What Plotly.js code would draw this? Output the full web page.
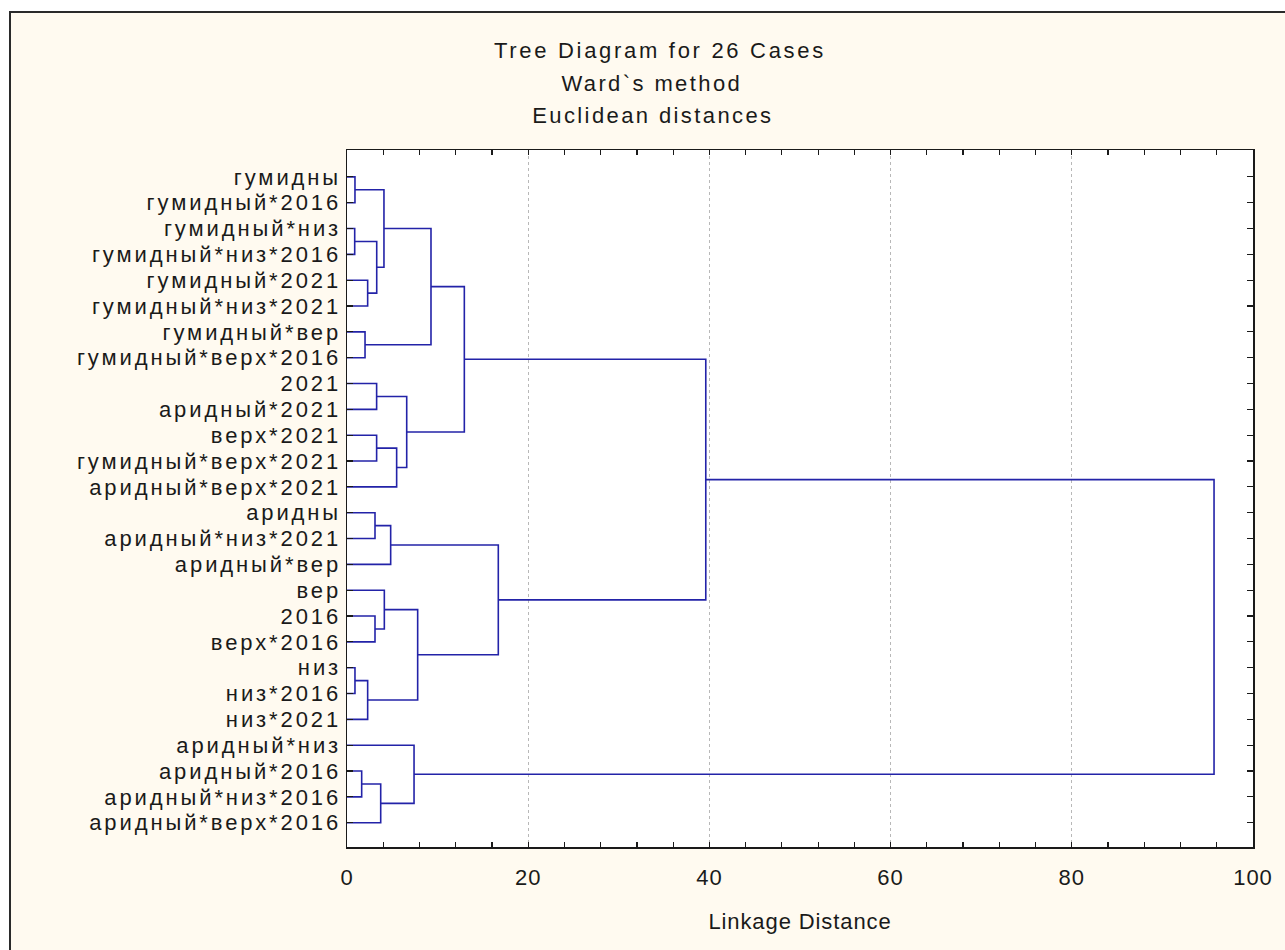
<!DOCTYPE html>
<html>
<head>
<meta charset="utf-8">
<script src="https://cdn.plot.ly/plotly-3.0.1.min.js"></script>
<style>
  html, body { margin: 0; padding: 0; background: #ffffff; overflow: hidden; }
  #frame { position: absolute; left: 9px; top: 11px; width: 1274px; height: 937px;
           border-left: 2px solid #2a2a2a; border-top: 2px solid #2a2a2a; background: #fffaf0; }
  #plot { width: 1274px; height: 937px; }
  #plot .ytick text { letter-spacing: 2.9px; }
  #plot text.gtitle { letter-spacing: 2.7px; }
  #plot text.annotation-text { letter-spacing: 2.4px; }
  #plot text.xtitle { letter-spacing: 0.9px; }
  #plot .xtick text { letter-spacing: 1px; }
</style>
</head>
<body>
<div id="frame"><div id="plot"></div></div>
<script>
// Leaves, top to bottom
const leafLabels = [
  "гумидны", "гумидный*2016", "гумидный*низ", "гумидный*низ*2016",
  "гумидный*2021", "гумидный*низ*2021", "гумидный*вер", "гумидный*верх*2016",
  "2021", "аридный*2021", "верх*2021", "гумидный*верх*2021", "аридный*верх*2021",
  "аридны", "аридный*низ*2021", "аридный*вер",
  "вер", "2016", "верх*2016", "низ", "низ*2016", "низ*2021",
  "аридный*низ", "аридный*2016", "аридный*низ*2016", "аридный*верх*2016"
];
// Linkage: cluster 26+i joins mergeA[i] and mergeB[i] at mergeDist[i]
const mergeA = [0, 2, 4, 27, 26, 6, 30, 8, 10, 34, 33, 32, 13, 38, 17, 16, 19, 42, 41, 39, 37, 23, 47, 22, 46];
const mergeB = [1, 3, 5, 28, 29, 7, 31, 9, 11, 12, 35, 36, 14, 15, 18, 40, 20, 21, 43, 44, 45, 24, 25, 48, 49];
const mergeDist = [0.88, 0.85, 2.28, 3.28, 4.08, 1.99, 9.27, 3.27, 3.27, 5.48, 6.59, 12.95,
                   3.09, 4.82, 3.09, 4.12, 0.88, 2.28, 7.8, 16.7, 39.6, 1.62, 3.72, 7.4, 95.7];
const xTickVals = [0, 20, 40, 60, 80, 100];
const titleLines = ["Tree Diagram for 26 Cases", "Ward`s method", "Euclidean distances"];
const xTitle = "Linkage Distance";

const n = leafLabels.length;
const pos = [], hgt = [];
for (let i = 0; i < n; i++) { pos.push(i); hgt.push(0); }
const xs = [], ys = [];
for (let i = 0; i < mergeA.length; i++) {
  const a = mergeA[i], b = mergeB[i], d = mergeDist[i];
  xs.push(hgt[a], d, d, hgt[b], null);
  ys.push(pos[a], pos[a], pos[b], pos[b], null);
  pos.push((pos[a] + pos[b]) / 2);
  hgt.push(d);
}

const font = "Liberation Sans, Arial, sans-serif";
const trace = {
  type: "scatter", mode: "lines", x: xs, y: ys,
  line: { color: "#2323a8", width: 1.6 },
  hoverinfo: "skip", showlegend: false
};

const layout = {
  width: 1274, height: 937,
  margin: { l: 336, r: 32, t: 137, b: 103, pad: 0 },
  paper_bgcolor: "#fffaf0", plot_bgcolor: "#ffffff",
  font: { family: font, size: 22, color: "#1a1a1a" },
  title: { text: titleLines[0], font: { family: font, size: 22, color: "#1a1a1a" },
           xref: "container", x: 0.5094, xanchor: "center",
           yref: "container", y: 1 - 37 / 937, yanchor: "middle" },
  annotations: [
    { text: titleLines[1], xref: "paper", yref: "paper", x: 0.3364, y: 1 + (136.5 - 69.7) / 697,
      xanchor: "center", yanchor: "middle", showarrow: false, font: { family: font, size: 22, color: "#1a1a1a" } },
    { text: titleLines[2], xref: "paper", yref: "paper", x: 0.3375, y: 1 + (136.5 - 101.7) / 697,
      xanchor: "center", yanchor: "middle", showarrow: false, font: { family: font, size: 22, color: "#1a1a1a" } }
  ],
  xaxis: {
    range: [0, 100], tickvals: xTickVals, ticktext: xTickVals.map(String),
    showgrid: true, gridcolor: "#b8b8b8", griddash: "dot", gridwidth: 1,
    zeroline: false, showline: true, linecolor: "#1a1a1a", linewidth: 1.5, mirror: "ticks",
    ticks: "inside", ticklen: 5, tickcolor: "#1a1a1a", tickwidth: 1.2,
    minor: { dtick: 4, tick0: 0, ticks: "inside", ticklen: 5, tickcolor: "#1a1a1a", tickwidth: 1.2, showgrid: false },
    ticklabelstandoff: 10,
    tickfont: { family: font, size: 22, color: "#1a1a1a" },
    title: { text: xTitle, font: { family: font, size: 22, color: "#1a1a1a" }, standoff: 24 },
    fixedrange: true
  },
  yaxis: {
    range: [25.94, -1.04], tickvals: leafLabels.map((_, i) => i), ticktext: leafLabels,
    showgrid: false, zeroline: false, showline: true, linecolor: "#1a1a1a", linewidth: 1.5, mirror: "ticks",
    ticks: "inside", ticklen: 6, tickcolor: "#1a1a1a", tickwidth: 1.2,
    ticklabelstandoff: 0,
    tickfont: { family: font, size: 22, color: "#1a1a1a" },
    fixedrange: true
  }
};

Plotly.newPlot("plot", [trace], layout, { displayModeBar: false, staticPlot: true });
</script>
</body>
</html>
